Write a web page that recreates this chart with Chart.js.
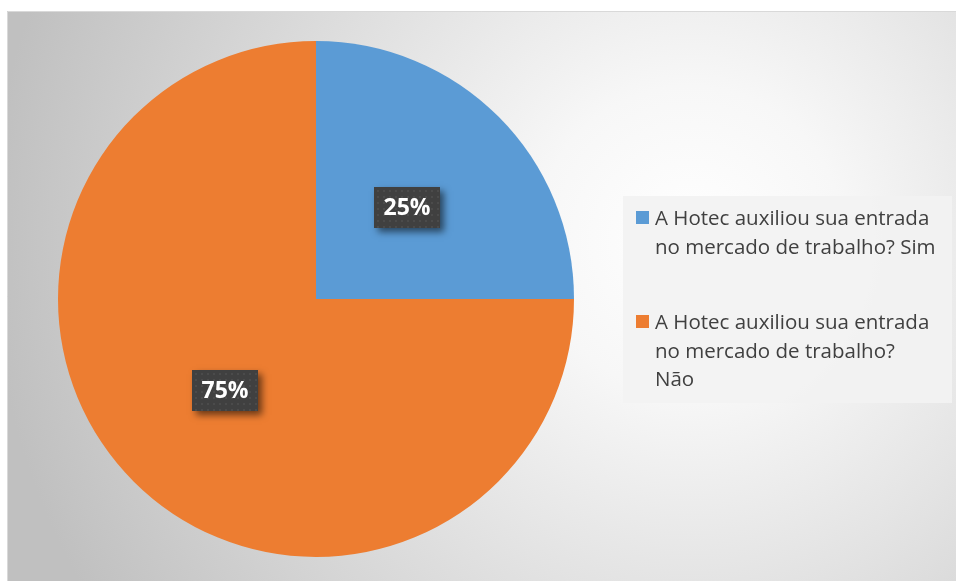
<!DOCTYPE html>
<html>
<head>
<meta charset="utf-8">
<script src="https://cdn.jsdelivr.net/npm/chart.js@4.4.1/dist/chart.umd.min.js"></script>
<style>
  html, body { margin: 0; padding: 0; background: #fff; }
  #wrap { width: 956px; height: 581px; }
</style>
</head>
<body>
<div id="wrap"><canvas id="pieChart" width="956" height="581"></canvas></div>
<script>
const labels = [
    ['A Hotec auxiliou sua entrada', 'no mercado de trabalho? Sim'],
    ['A Hotec auxiliou sua entrada', 'no mercado de trabalho?', 'Não']
];
const values = [25, 75];
const colors = ['#5B9BD5', '#ED7D31'];

const FONT = '"Open Sans", "Noto Sans", sans-serif';

// grey gradient frame behind everything
const frame = {
    id: 'frame',
    beforeDraw(chart) {
        const c = chart.ctx;
        c.save();
        c.fillStyle = '#fff';
        c.fillRect(0, 0, chart.width, chart.height);
        const g = c.createRadialGradient(690, 240, 0, 690, 240, 700);
        g.addColorStop(0, '#ffffff');
        g.addColorStop(0.22, '#f7f7f7');
        g.addColorStop(1, '#c0c0c0');
        c.fillStyle = g;
        c.fillRect(7, 11, chart.width - 7, chart.height - 11);
        c.strokeStyle = '#d9d9d9';
        c.lineWidth = 1;
        c.beginPath();
        c.moveTo(7.5, chart.height);
        c.lineTo(7.5, 11.5);
        c.lineTo(chart.width, 11.5);
        c.stroke();
        c.restore();
    }
};

// dark percentage boxes at half radius
const boxLabels = {
    id: 'boxLabels',
    afterDatasetsDraw(chart) {
        const c = chart.ctx;
        const meta = chart.getDatasetMeta(0);
        const total = values.reduce((a, b) => a + b, 0);
        meta.data.forEach((arc, i) => {
            const p = arc.tooltipPosition();
            const txt = Math.round(values[i] / total * 100) + '%';
            const w = 66, h = 41;
            const x = Math.round(p.x - w / 2), y = Math.round(p.y - h / 2);
            c.save();
            c.shadowColor = 'rgba(0,0,0,0.55)';
            c.shadowBlur = 7;
            c.shadowOffsetX = 4;
            c.shadowOffsetY = 4;
            c.fillStyle = '#404040';
            c.fillRect(x, y, w, h);
            c.restore();
            c.save();
            c.fillStyle = 'rgba(255,255,255,0.06)';
            for (let yy = y + 3; yy < y + h; yy += 6) {
                for (let xx = x + 3; xx < x + w; xx += 6) {
                    c.fillRect(xx, yy, 2, 2);
                }
            }
            c.fillStyle = '#ffffff';
            c.font = 'bold 23px ' + FONT;
            c.textAlign = 'center';
            c.textBaseline = 'middle';
            c.fillText(txt, x + w / 2, y + h / 2 + 1);
            c.restore();
        });
    }
};

// legend box on the right, multi-line entries
const sideLegend = {
    id: 'sideLegend',
    afterDraw(chart) {
        const c = chart.ctx;
        c.save();
        c.fillStyle = 'rgba(242,242,242,0.92)';
        c.fillRect(623, 196, 329, 207);
        c.font = '20.5px ' + FONT;
        c.fillStyle = '#404040';
        c.textBaseline = 'alphabetic';
        const starts = [225, 329];
        chart.data.labels.forEach((lines, i) => {
            const y0 = starts[i];
            c.fillStyle = chart.data.datasets[0].backgroundColor[i];
            c.fillRect(636, y0 - 14, 13, 13);
            c.fillStyle = '#404040';
            lines.forEach((ln, j) => c.fillText(ln, 655, y0 + j * 28.5));
        });
        c.restore();
    }
};

new Chart(document.getElementById('pieChart'), {
    type: 'pie',
    data: {
        labels: labels,
        datasets: [{
            data: values,
            backgroundColor: colors,
            borderWidth: 0
        }]
    },
    options: {
        responsive: false,
        animation: false,
        layout: { padding: { left: 57, right: 381, top: 41, bottom: 24 } },
        plugins: {
            legend: { display: false },
            tooltip: { enabled: false }
        }
    },
    plugins: [frame, boxLabels, sideLegend]
});
</script>
</body>
</html>
